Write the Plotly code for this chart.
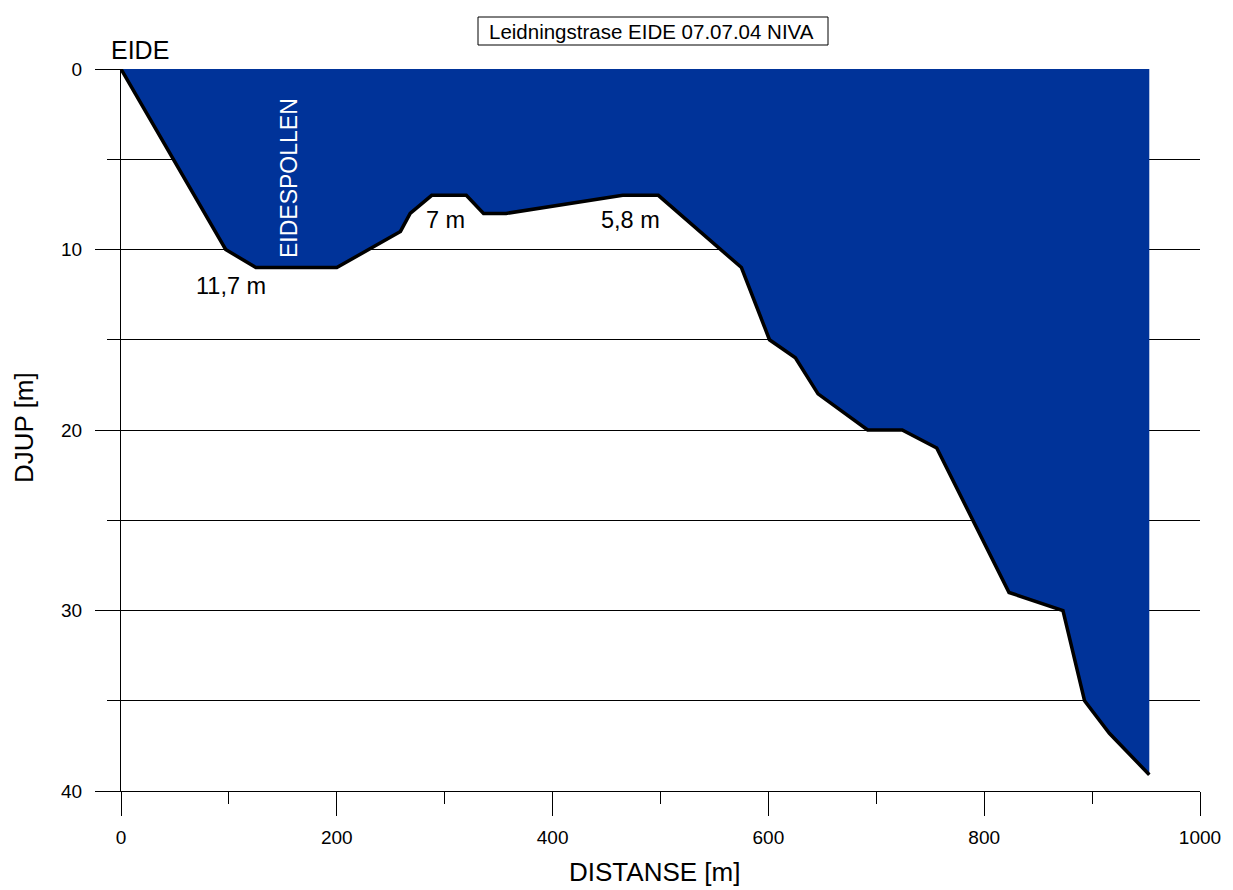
import plotly.graph_objects as go

# Profile data (distance [m], depth [m])
distance = [0, 97, 125, 200, 259, 268, 288, 320, 336, 357, 465, 498, 575, 601, 625, 646, 692, 724, 756, 823, 873, 893, 916, 953]
depth = [0, 10, 11, 11, 9, 8, 7, 7, 8, 8, 7, 7, 11, 15, 16, 18, 20, 20, 21, 29, 30, 35, 36.8, 39.1]

x_ticks = [0, 200, 400, 600, 800, 1000]
y_ticks = [0, 10, 20, 30, 40]

labels_text = ["11,7 m", "7 m", "5,8 m"]
labels_x = [101.5, 301, 472]
labels_y = [12.0, 8.35, 8.35]

FONT = "Liberation Sans, Arial, sans-serif"
BLUE = "#003399"

# plot area in screen pixels
PL, PT, PW, PH = 121, 69, 1079, 722


def px(xp):
    return (xp - PL) / PW


def py(yp):
    return 1 - (yp - PT) / PH


fig = go.Figure()

# water polygon
fig.add_trace(go.Scatter(
    x=distance + [distance[-1], 0],
    y=depth + [0, 0],
    fill="toself", fillcolor=BLUE,
    mode="lines", line=dict(width=0, color=BLUE),
    hoverinfo="skip", showlegend=False,
))
# bottom profile
fig.add_trace(go.Scatter(
    x=distance, y=depth, mode="lines",
    line=dict(color="black", width=3.5),
    showlegend=False,
))

for t, xv, yv in zip(labels_text, labels_x, labels_y):
    fig.add_annotation(x=xv, y=yv, text=t, showarrow=False,
                       font=dict(family=FONT, size=23.5, color="black"))

fig.add_annotation(x=155.7, y=6.04, text="EIDESPOLLEN", textangle=-90, showarrow=False,
                   font=dict(family=FONT, size=23, color="white"))

fig.add_annotation(x=px(109), y=py(50), xref="paper", yref="paper", text="EIDE",
                   showarrow=False, xanchor="left", yanchor="middle",
                   font=dict(family=FONT, size=25, color="black"))

# title box
fig.add_shape(type="rect", xref="paper", yref="paper",
              x0=px(478), x1=px(828), y0=py(17), y1=py(45),
              line=dict(color="black", width=1), fillcolor="white")
fig.add_annotation(x=px(651), y=py(31), xref="paper", yref="paper",
                   text="Leidningstrase EIDE 07.07.04 NIVA", showarrow=False,
                   xanchor="center", yanchor="middle",
                   font=dict(family=FONT, size=20.5, color="black"))

# axis titles
fig.add_annotation(x=px(654), y=py(872), xref="paper", yref="paper",
                   text="DISTANSE [m]", showarrow=False, yanchor="middle",
                   font=dict(family=FONT, size=26, color="black"))
fig.add_annotation(x=px(24), y=py(428), xref="paper", yref="paper",
                   text="DJUP [m]", showarrow=False, textangle=-90, xanchor="center",
                   font=dict(family=FONT, size=26, color="black"))

# page body has an 8px offset, compensate in margins
fig.update_layout(
    width=1233, height=890,
    margin=dict(l=PL - 8, r=1233 - (PL - 8) - PW, t=PT - 8, b=890 - (PT - 8) - PH),
    paper_bgcolor="white", plot_bgcolor="white",
    font=dict(family=FONT, size=19, color="black"),
    showlegend=False,
)

fig.update_xaxes(
    range=[0, 1000], tickvals=x_ticks, ticks="outside", ticklen=24, tickcolor="black",
    ticklabelstandoff=5,
    minor=dict(dtick=100, ticks="outside", ticklen=12, tickcolor="black", showgrid=False),
    showgrid=False, zeroline=False, showline=True, linecolor="black", linewidth=1,
    tickfont=dict(size=19), automargin=False,
)
fig.update_yaxes(
    range=[40, 0], tickvals=y_ticks, ticks="outside", ticklen=25, tickcolor="black",
    ticklabelstandoff=9,
    minor=dict(dtick=5, ticks="outside", ticklen=13, tickcolor="black", showgrid=True,
               gridcolor="black", gridwidth=1),
    showgrid=True, gridcolor="black", gridwidth=1,
    zeroline=False, showline=True, linecolor="black", linewidth=1,
    tickfont=dict(size=19), automargin=False,
)

fig.write_html("out.html")
